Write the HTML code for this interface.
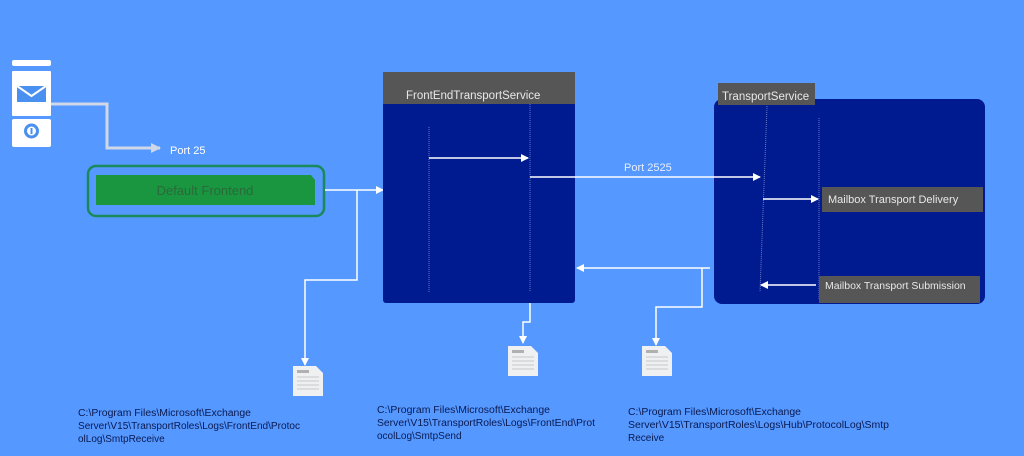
<!DOCTYPE html>
<html><head><meta charset="utf-8"><style>
html,body{margin:0;padding:0;background:#5598ff;}
svg{display:block;font-family:"Liberation Sans",sans-serif;}
</style></head><body>
<svg width="1024" height="456" viewBox="0 0 1024 456" xmlns="http://www.w3.org/2000/svg">
<defs>
<marker id="a" markerWidth="8" markerHeight="8" refX="7" refY="4" orient="auto" markerUnits="userSpaceOnUse"><path d="M0,0 L8,4 L0,8 Z" fill="#fff"/></marker>
<marker id="g" markerWidth="10" markerHeight="10" refX="9" refY="5" orient="auto" markerUnits="userSpaceOnUse"><path d="M0,0 L10,5 L0,10 Z" fill="#d0d8e8"/></marker>
<g id="doc"><path d="M0,0 H23 L30,7 V30 H0 Z" fill="#eef0f2"/><rect x="4" y="4" width="12" height="3" fill="#b0b0b0"/><g stroke="#c8c8c8" stroke-width="1"><line x1="4" y1="11" x2="26" y2="11"/><line x1="4" y1="15" x2="26" y2="15"/><line x1="4" y1="19" x2="26" y2="19"/><line x1="4" y1="23" x2="26" y2="23"/></g></g>
</defs>
<rect width="1024" height="456" fill="#5598ff"/>
<!-- phone -->
<rect x="12" y="60" width="39" height="6" rx="2" fill="#fff"/>
<rect x="12" y="71" width="39" height="45" rx="1" fill="#fff"/>
<rect x="12" y="119" width="39" height="28" rx="2" fill="#fff"/>
<rect x="17" y="86" width="29" height="16" fill="#4a90f0"/>
<path d="M17,86 L31.5,96 L46,86" fill="none" stroke="#fff" stroke-width="2"/>
<circle cx="31.5" cy="131" r="6" fill="none" stroke="#4a90f0" stroke-width="3"/>
<rect x="30.5" y="128" width="2" height="6" fill="#4a90f0"/>
<polyline points="51,104 107,104 107,148 160,148" fill="none" stroke="#d0d8e8" stroke-width="3" marker-end="url(#g)"/>
<text x="170" y="154" font-size="11" fill="#fff">Port 25</text>
<!-- default frontend -->
<rect x="88" y="166" width="236" height="50" rx="8" fill="none" stroke="#1a8a5a" stroke-width="2.5"/>
<path d="M96,175 H311 L315,180 V205 H96 Z" fill="#1a9640"/>
<text x="205" y="195" font-size="13" fill="#2a6a3a" text-anchor="middle">Default Frontend</text>
<line x1="325" y1="190" x2="383" y2="190" stroke="#fff" stroke-width="1.5" marker-end="url(#a)"/>
<polyline points="357,190 357,280 305,280 305,365" fill="none" stroke="#fff" stroke-width="1.5" marker-end="url(#a)"/>
<!-- frontend box -->
<rect x="383" y="72" width="192" height="231" rx="3" fill="#001b8f"/>
<rect x="383" y="72" width="192" height="32" fill="#565656"/>
<text x="406" y="99" font-size="11.5" fill="#e8e8e8">FrontEndTransportService</text>
<line x1="429" y1="127" x2="429" y2="292" stroke="#6a7ac0" stroke-width="1" stroke-dasharray="1,1"/>
<line x1="530" y1="104" x2="530" y2="292" stroke="#6a7ac0" stroke-width="1" stroke-dasharray="1,1"/>
<line x1="429" y1="158" x2="528" y2="158" stroke="#fff" stroke-width="1.5" marker-end="url(#a)"/>
<!-- transport box -->
<rect x="714" y="99" width="271" height="205" rx="8" fill="#001b8f"/>
<rect x="718" y="83" width="97" height="22" fill="#565656"/>
<text x="722" y="100" font-size="11.5" fill="#e8e8e8">TransportService</text>
<line x1="767" y1="106" x2="760" y2="292" stroke="#6a7ac0" stroke-width="1" stroke-dasharray="1,1"/>
<line x1="819" y1="118" x2="819" y2="300" stroke="#6a7ac0" stroke-width="1" stroke-dasharray="1,1"/>
<line x1="530" y1="177" x2="760" y2="177" stroke="#fff" stroke-width="1.5" marker-end="url(#a)"/>
<text x="624" y="171" font-size="11" fill="#e8eefc">Port 2525</text>
<rect x="822" y="187" width="161" height="25" fill="#565656"/>
<text x="828" y="203" font-size="11" fill="#e8e8e8">Mailbox Transport Delivery</text>
<line x1="763" y1="199" x2="818" y2="199" stroke="#fff" stroke-width="1.5" marker-end="url(#a)"/>
<rect x="819" y="276" width="161" height="27" fill="#565656"/>
<text x="825" y="289" font-size="10.5" fill="#e8e8e8">Mailbox Transport Submission</text>
<line x1="816" y1="285" x2="761" y2="285" stroke="#fff" stroke-width="1.5" marker-end="url(#a)"/>
<!-- return -->
<line x1="710" y1="268" x2="577" y2="268" stroke="#fff" stroke-width="1.5" marker-end="url(#a)"/>
<polyline points="702,268 702,307 656,307 656,345" fill="none" stroke="#fff" stroke-width="1.5" marker-end="url(#a)"/>
<polyline points="530,303 530,322 523,322 523,343" fill="none" stroke="#fff" stroke-width="1.5" marker-end="url(#a)"/>
<!-- docs -->
<use href="#doc" x="293" y="366"/>
<use href="#doc" x="508" y="346"/>
<use href="#doc" x="642" y="346"/>
<!-- paths -->
<g font-size="10" fill="#0a1a50">
<text x="78" y="416" textLength="173" lengthAdjust="spacingAndGlyphs">C:\Program Files\Microsoft\Exchange</text>
<text x="78" y="429" textLength="222" lengthAdjust="spacingAndGlyphs">Server\V15\TransportRoles\Logs\FrontEnd\Protoc</text>
<text x="78" y="442">olLog\SmtpReceive</text>
<text x="377" y="413" textLength="173" lengthAdjust="spacingAndGlyphs">C:\Program Files\Microsoft\Exchange</text>
<text x="377" y="426" textLength="218" lengthAdjust="spacingAndGlyphs">Server\V15\TransportRoles\Logs\FrontEnd\Prot</text>
<text x="377" y="439">ocolLog\SmtpSend</text>
<text x="628" y="415" textLength="173" lengthAdjust="spacingAndGlyphs">C:\Program Files\Microsoft\Exchange</text>
<text x="628" y="428" textLength="261" lengthAdjust="spacingAndGlyphs">Server\V15\TransportRoles\Logs\Hub\ProtocolLog\Smtp</text>
<text x="628" y="441">Receive</text>
</g>
</svg>
</body></html>
